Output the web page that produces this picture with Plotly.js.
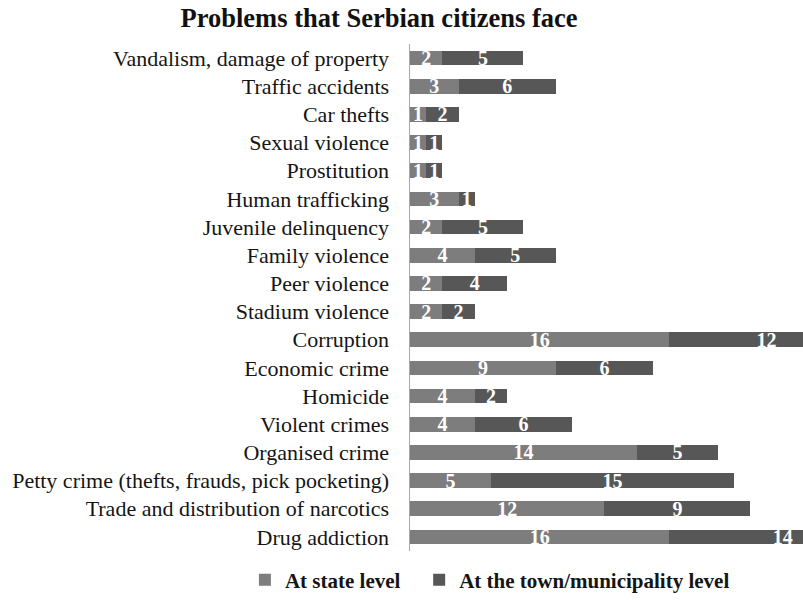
<!DOCTYPE html>
<html>
<head>
<meta charset="utf-8">
<script src="https://cdn.plot.ly/plotly-3.0.1.min.js"></script>
<style>html,body{margin:0;padding:0;background:#fff;overflow:hidden;}</style>
</head>
<body>
<div id="chart" style="width:803px;height:600px;"></div>
<script>
// Categories listed bottom-to-top (Plotly draws first category at bottom)
const categories = [
  "Drug addiction",
  "Trade and distribution of narcotics",
  "Petty crime (thefts, frauds, pick pocketing)",
  "Organised crime",
  "Violent crimes",
  "Homicide",
  "Economic crime",
  "Corruption",
  "Stadium violence",
  "Peer violence",
  "Family violence",
  "Juvenile delinquency",
  "Human trafficking",
  "Prostitution",
  "Sexual violence",
  "Car thefts",
  "Traffic accidents",
  "Vandalism, damage of property"
];
const stateLevel = [16, 12, 5, 14, 4, 4, 9, 16, 2, 2, 4, 2, 3, 1, 1, 1, 3, 2];
const townLevel  = [14, 9, 15, 5, 6, 2, 6, 12, 2, 4, 5, 5, 1, 1, 1, 2, 6, 5];
const seriesNames = ["At state level", "At the town/municipality level"];

const serif = "'Liberation Serif', 'Times New Roman', serif";
const textFont = {family: serif, size: 20, color: "#ffffff", weight: "bold"};
const legendFont = {family: serif, size: 21, color: "#151515", weight: "bold"};

function barTrace(vals, name, color, legendId) {
  return {
    type: "bar",
    orientation: "h",
    y: categories,
    x: vals,
    name: name,
    legend: legendId,
    marker: {color: color, line: {width: 0}},
    text: vals.map(String),
    textposition: "inside",
    insidetextanchor: "middle",
    textangle: 0,
    constraintext: "none",
    textfont: textFont,
    hoverinfo: "none"
  };
}

const data = [
  barTrace(stateLevel, seriesNames[0], "#7d7d7d", "legend"),
  barTrace(townLevel, seriesNames[1], "#575757", "legend2")
];

const layout = {
  width: 803,
  height: 600,
  paper_bgcolor: "#ffffff",
  plot_bgcolor: "#ffffff",
  barmode: "stack",
  bargap: 0.48,
  margin: {l: 410, r: 0, t: 44, b: 49, autoexpand: false},
  title: {
    text: "<b>Problems that Serbian citizens face</b>",
    font: {family: serif, size: 26.5, color: "#111111"},
    x: 0.472, xref: "container", xanchor: "center",
    y: 0.971, yref: "container", yanchor: "middle"
  },
  xaxis: {
    range: [0, 24.25],
    showticklabels: false,
    showgrid: false,
    zeroline: false,
    showline: false,
    ticks: "",
    automargin: false,
    fixedrange: true
  },
  yaxis: {
    type: "category",
    showgrid: false,
    zeroline: false,
    showline: true,
    linecolor: "#a8a8a8",
    linewidth: 1.5,
    ticks: "",
    ticklabelstandoff: 15,
    automargin: false,
    tickfont: {family: serif, size: 22, color: "#151515"},
    fixedrange: true
  },
  showlegend: true,
  legend: {
    orientation: "h",
    xref: "container", yref: "container",
    x: 0.305, xanchor: "left",
    y: 0.033, yanchor: "middle",
    font: legendFont,
    itemwidth: 30
  },
  legend2: {
    orientation: "h",
    xref: "container", yref: "container",
    x: 0.522, xanchor: "left",
    y: 0.033, yanchor: "middle",
    font: legendFont,
    itemwidth: 30
  }
};

Plotly.newPlot("chart", data, layout, {displayModeBar: false, staticPlot: true});
</script>
</body>
</html>
